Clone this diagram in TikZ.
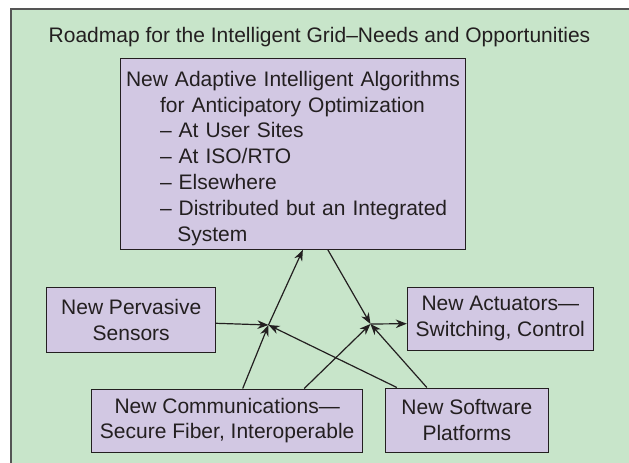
\documentclass[tikz,border=0pt]{standalone}
\usepackage{fontspec}
\setmainfont{Liberation Sans}
\usetikzlibrary{arrows.meta}
\definecolor{bggreen}{RGB}{200,229,202}
\definecolor{boxlilac}{RGB}{210,200,227}
\definecolor{frameline}{RGB}{85,85,85}
\definecolor{ink}{RGB}{35,31,32}

\begin{document}
\begin{tikzpicture}
[x=1pt,y=-1pt,
 box/.style={draw=ink,fill=boxlilac,line width=1pt,inner sep=0pt,align=center,text=ink,
   font=\fontsize{21}{25.5}\selectfont},
 arr/.style={-{Stealth[length=11pt,width=8.5pt]},draw=ink,line width=1.2pt}]
\useasboundingbox (0,0) rectangle (629,463);
\fill[bggreen] (11,9) rectangle (629,463);
\draw[frameline,line width=1.6pt] (11,463) -- (11,9) -- (629,9);
\node[anchor=base,text=ink,font=\fontsize{21}{25}\selectfont](title) at (319.5,42)
  {Roadmap for the Intelligent Grid–Needs and Opportunities};
\node[box,align=left,minimum width=344.3pt,minimum height=191pt,text width=333.7pt,
  inner xsep=5.3pt,font=\fontsize{21}{25.8}\selectfont](algo) at (292.85,153.8)
  {\rule{0pt}{24.3pt}\mbox{New Adaptive Intelligent Algorithms}\\
   \hspace*{34pt}for Anticipatory Optimization\\
   \hspace*{34pt}– At User Sites\\
   \hspace*{34pt}– At ISO/RTO\\
   \hspace*{34pt}– Elsewhere\\
   \hspace*{34pt}– Distributed but an Integrated\\
   \hspace*{51.3pt}System};
\node[box,minimum width=169pt,minimum height=65.4pt](sens) at (131.2,320) {New Pervasive\\Sensors};
\node[box,minimum width=186pt,minimum height=62.7pt](act) at (500.3,318.7) {New Actuators—\\Switching, Control};
\node[box,minimum width=271pt,minimum height=63pt](comm) at (227.2,420.5) {New Communications—\\Secure Fiber, Interoperable};
\node[box,minimum width=163.7pt,minimum height=64pt](soft) at (466.85,420) {New Software\\Platforms};
\coordinate (jl) at (268.5,325);
\coordinate (jr) at (370.5,324);
\draw[arr] ([yshift=-3.3pt]sens.east) -- (jl);
\draw[arr] ([xshift=15.5pt]comm.north) -- (jl);
\draw[arr] ([xshift=-70pt]soft.north) -- (jl);
\draw[arr] (jl) -- ([xshift=10pt]algo.south);
\draw[arr] ([xshift=35pt]algo.south) -- (jr);
\draw[arr] ([xshift=77pt]comm.north) -- (jr);
\draw[arr] ([xshift=-40pt]soft.north) -- (jr);
\draw[arr] (jr) -- ([yshift=-5pt]act.west);
\end{tikzpicture}
\end{document}
